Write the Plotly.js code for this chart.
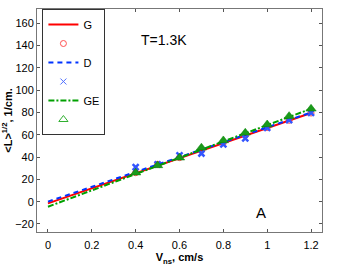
<!DOCTYPE html>
<html><head><meta charset="utf-8">
<script src="https://cdn.plot.ly/plotly-3.0.1.min.js"></script>
<style>body{margin:0;padding:0;background:#fff}#c{width:338px;height:267px}</style>
</head><body><div id="c"></div>
<script>
// Fit lines (endpoints)
const lineX = [0, 1.2];
const gLine = [-1.5, 79.5];
const dLine = [0, 80];
const geLine = [-4.5, 83.3];
// Measured points
const ptsX = [0.4, 0.5, 0.6, 0.7, 0.8, 0.9, 1.0, 1.1, 1.2];
const gPts = [26, 33.5, 39.5, 46, 53, 59.5, 66.5, 73, 79.5];
const dPts = [31, 33.4, 41.5, 43.2, 51.3, 56.7, 66.2, 73.1, 79.7];
const gePts = [26, 32.5, 39.4, 48.4, 54.9, 61.8, 69.2, 76.7, 83.3];
const xTicks = [0, 0.2, 0.4, 0.6, 0.8, 1, 1.2];
const yTicks = [-20, 0, 20, 40, 60, 80, 100, 120, 140, 160];

const data = [
  {x: lineX, y: gLine, mode: 'lines', name: 'G', legendrank: 1, line: {color: '#ff0000', width: 2, dash: 'solid'}},
  {x: ptsX, y: gPts, mode: 'markers', showlegend: false, marker: {symbol: 'circle-open', color: '#ff4040', size: 6, line: {width: 1}}},
  {x: [null], y: [null], mode: 'markers', name: ' ', legendrank: 2, marker: {symbol: 'circle-open', color: '#ff5050', size: 6, line: {width: 1}}},
  {x: lineX, y: dLine, mode: 'lines', name: 'D', legendrank: 3, line: {color: '#0033ff', width: 2, dash: '5px,4px'}},
  {x: ptsX, y: dPts, mode: 'markers', showlegend: false, marker: {symbol: 'x-thin-open', color: '#3355ff', size: 6, line: {width: 2.5, color: '#3355ff'}}},
  {x: [null], y: [null], mode: 'markers', name: ' ', legendrank: 4, marker: {symbol: 'x-thin-open', color: '#5070ff', size: 6, line: {width: 1, color: '#5070ff'}}},
  {x: lineX, y: geLine, mode: 'lines', name: 'GE', legendrank: 5, line: {color: '#00a000', width: 2, dash: '6px,2px,2px,2px'}},
  {x: ptsX, y: gePts, mode: 'markers', showlegend: false, marker: {symbol: 'triangle-up', color: '#1a9a1a', size: 9, line: {width: 0.5, color: '#008000'}}},
  {x: [null], y: [null], mode: 'markers', name: ' ', legendrank: 6, marker: {symbol: 'triangle-up-open', color: '#30b030', size: 8, line: {width: 1, color: '#30b030'}}}
];

const layout = {
  width: 338, height: 267,
  margin: {l: 37, r: 16, t: 9, b: 35},
  paper_bgcolor: '#fff', plot_bgcolor: '#fff',
  font: {family: 'Liberation Sans, Arial, sans-serif', size: 11, color: '#000'},
  showlegend: true,
  legend: {x: 0.019, y: 1, xanchor: 'left', yanchor: 'top', bgcolor: '#fff',
           bordercolor: '#333', borderwidth: 1, font: {size: 11}, tracegroupgap: 0},
  xaxis: {range: [-0.05, 1.25], tickvals: xTicks, ticktext: xTicks.map(String),
          ticks: 'inside', ticklen: 3, tickcolor: '#555', showline: true, linecolor: '#777', linewidth: 1,
          mirror: 'ticks', showgrid: false, zeroline: false, ticklabelstandoff: 3,
          title: {text: '<b>V<sub>ns</sub>, cm/s</b>', font: {size: 11}, standoff: 1}},
  yaxis: {range: [-27.2, 172.8], tickvals: yTicks, ticktext: yTicks.map(v => v < 0 ? '\u2212' + Math.abs(v) : String(v)),
          ticks: 'inside', ticklen: 3, tickcolor: '#555', showline: true, linecolor: '#777', linewidth: 1,
          mirror: 'ticks', showgrid: false, zeroline: false,
          title: {text: '<b>&lt;L&gt;<sup>1/2</sup>, 1/cm.</b>', font: {size: 11}, standoff: 2}},
  annotations: [
    {x: 0.53, y: 145, xref: 'x', yref: 'y', text: 'T=1.3K', showarrow: false, font: {size: 14}},
    {x: 0.97, y: -9.6, xref: 'x', yref: 'y', text: 'A', showarrow: false, font: {size: 15}}
  ]
};
Plotly.newPlot('c', data, layout, {displayModeBar: false, staticPlot: true});
</script></body></html>
